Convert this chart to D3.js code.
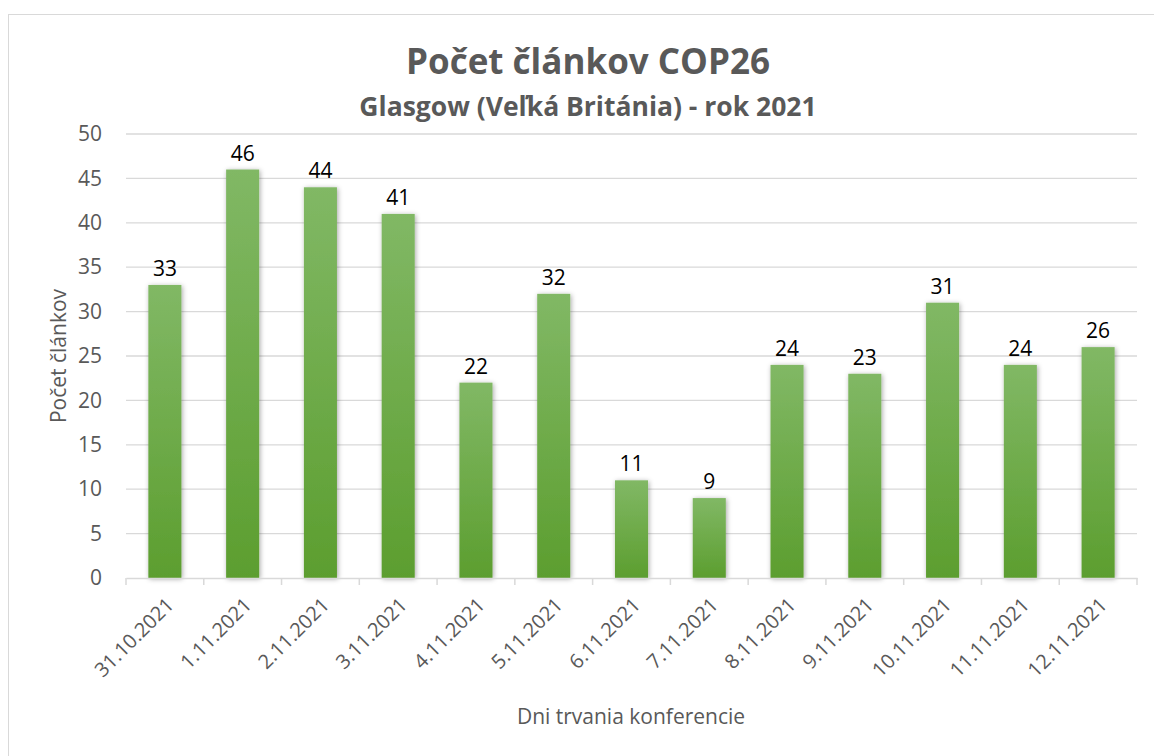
<!DOCTYPE html>
<html>
<head>
<meta charset="utf-8">
<script src="https://cdn.jsdelivr.net/npm/d3@7"></script>
<style>
  body { margin: 0; background: #fff; }
  svg text { font-family: "Open Sans", sans-serif; }
</style>
</head>
<body>
<div id="chart"></div>
<script>
// data
var days = ['31.10.2021', '1.11.2021', '2.11.2021', '3.11.2021', '4.11.2021', '5.11.2021',
  '6.11.2021', '7.11.2021', '8.11.2021', '9.11.2021', '10.11.2021', '11.11.2021', '12.11.2021'];
var counts = [33, 46, 44, 41, 22, 32, 11, 9, 24, 23, 31, 24, 26];
var yTicks = [0, 5, 10, 15, 20, 25, 30, 35, 40, 45, 50];

var W = 1154, H = 756;
var margin = {t: 134, r: 17, b: 178, l: 126},
  pw = W - margin.l - margin.r,
  ph = H - margin.t - margin.b;

var svg = d3.select('#chart').append('svg')
  .attr('width', W).attr('height', H);

var defs = svg.append('defs');
var grad = defs.append('linearGradient')
  .attr('id', 'barGrad').attr('x1', 0).attr('y1', 0).attr('x2', 0).attr('y2', 1);
grad.append('stop').attr('offset', '0%').attr('stop-color', '#81b865');
grad.append('stop').attr('offset', '100%').attr('stop-color', '#5c9e2f');

var shadow = defs.append('filter').attr('id', 'shadow')
  .attr('x', '-30%').attr('y', '-10%').attr('width', '160%').attr('height', '120%');
shadow.append('feDropShadow')
  .attr('dx', 1).attr('dy', 1).attr('stdDeviation', 2.5)
  .attr('flood-color', '#000').attr('flood-opacity', 0.35);

// chart frame
svg.append('rect')
  .attr('x', 8.5).attr('y', 14.5)
  .attr('width', W).attr('height', H)
  .attr('fill', '#fff').attr('stroke', '#d9d9d9');

var g = svg.append('g')
  .attr('transform', 'translate(' + margin.l + ',' + margin.t + ')');

var x = d3.scaleBand().domain(days).range([0, pw]).paddingInner(0.575).paddingOuter(0.2875);
var y = d3.scaleLinear().domain([0, 50]).range([ph, 0]);

// gridlines
g.selectAll('.grid')
  .data(yTicks.slice(1))
  .enter().append('line')
  .attr('x1', 0).attr('x2', pw)
  .attr('y1', function(d) { return y(d); })
  .attr('y2', function(d) { return y(d); })
  .attr('stroke', '#d9d9d9').attr('stroke-width', 1.3);

// y axis
var yAxis = g.append('g')
  .call(d3.axisLeft(y).tickValues(yTicks).tickSize(0).tickPadding(24));
yAxis.select('.domain').remove();
yAxis.selectAll('text')
  .attr('fill', '#595959').style('font-size', '21px');

// bars
g.selectAll('.bar')
  .data(counts)
  .enter().append('rect')
  .attr('class', 'bar')
  .attr('x', function(d, i) { return x(days[i]); })
  .attr('width', x.bandwidth())
  .attr('y', function(d) { return y(d); })
  .attr('height', function(d) { return ph - y(d); })
  .attr('fill', 'url(#barGrad)')
  .attr('filter', 'url(#shadow)');

// value labels
g.selectAll('.lbl')
  .data(counts)
  .enter().append('text')
  .attr('x', function(d, i) { return x(days[i]) + x.bandwidth() / 2; })
  .attr('y', function(d) { return y(d) - 9; })
  .attr('text-anchor', 'middle')
  .attr('fill', '#000')
  .style('font-size', '21px')
  .text(function(d) { return d; });

// x axis
var xAxis = g.append('g')
  .attr('transform', 'translate(0,' + ph + ')')
  .call(d3.axisBottom(x).tickSize(0));
xAxis.select('.domain').attr('stroke', '#d9d9d9').attr('stroke-width', 1.5);
// tick marks between categories
var step = x.step();
g.selectAll('.xtick')
  .data(d3.range(days.length + 1))
  .enter().append('line')
  .attr('x1', function(i) { return i * step; })
  .attr('x2', function(i) { return i * step; })
  .attr('y1', ph).attr('y2', ph + 7)
  .attr('stroke', '#d9d9d9').attr('stroke-width', 1.5);
xAxis.selectAll('text')
  .attr('fill', '#595959')
  .style('font-size', '20px')
  .attr('text-anchor', 'end')
  .attr('dy', 0)
  .attr('transform', 'translate(8,26) rotate(-45)');

// titles
svg.append('text')
  .attr('x', 588).attr('y', 74)
  .attr('text-anchor', 'middle')
  .attr('fill', '#595959')
  .style('font-size', '35px').style('font-weight', 'bold')
  .text('Počet článkov COP26');

svg.append('text')
  .attr('x', 588).attr('y', 116)
  .attr('text-anchor', 'middle')
  .attr('fill', '#595959')
  .style('font-size', '26.5px').style('font-weight', 'bold')
  .text('Glasgow (Veľká Británia) - rok 2021');

// axis titles
svg.append('text')
  .attr('x', 631).attr('y', 724)
  .attr('text-anchor', 'middle')
  .attr('fill', '#595959')
  .style('font-size', '21px')
  .text('Dni trvania konferencie');

svg.append('text')
  .attr('transform', 'translate(66,' + (margin.t + ph / 2) + ') rotate(-90)')
  .attr('text-anchor', 'middle')
  .attr('fill', '#595959')
  .style('font-size', '21px')
  .text('Počet článkov');
</script>
</body>
</html>
